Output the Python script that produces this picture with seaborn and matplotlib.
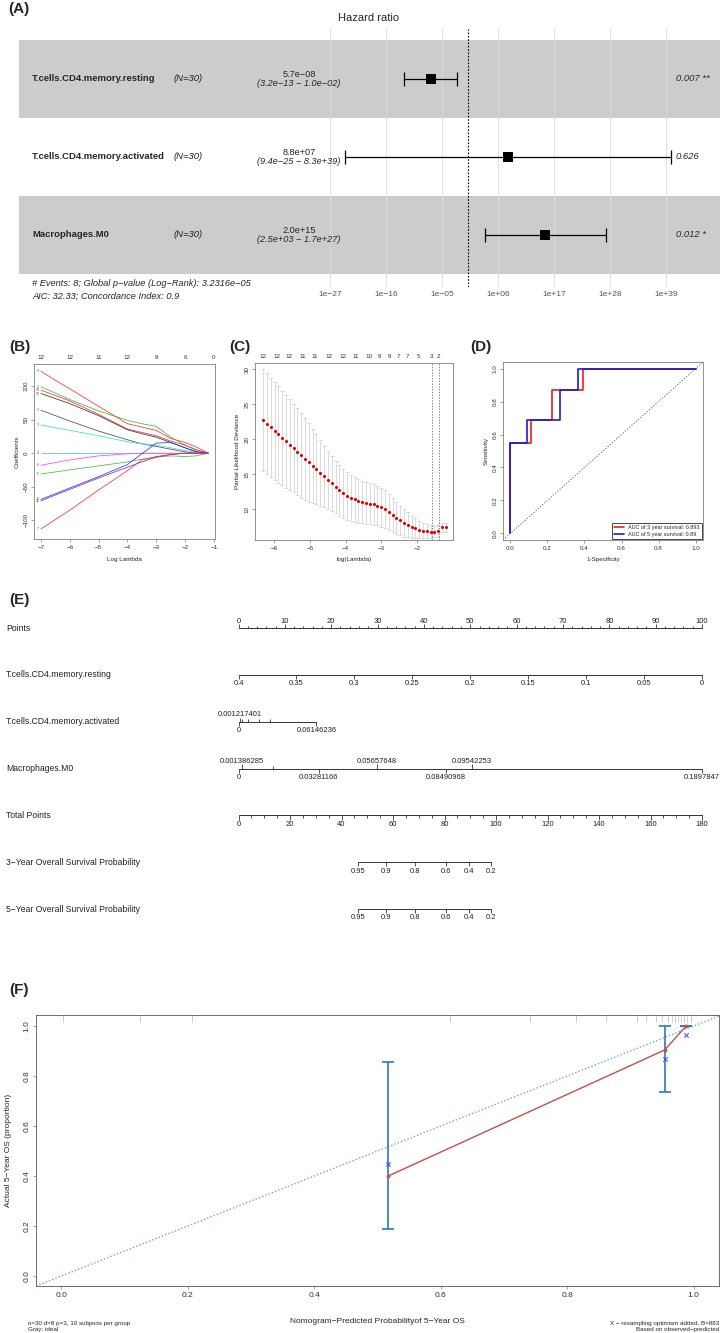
import numpy as np
import pandas as pd
import matplotlib
matplotlib.use("Agg")
import matplotlib.pyplot as plt
from matplotlib.ticker import NullLocator
import seaborn as sns

# --- (A) multivariate Cox forest plot ---
forest_vars = ["T.cells.CD4.memory.resting", "T.cells.CD4.memory.activated", "Macrophages.M0"]
forest_n = [30, 30, 30]
forest_hr = [5.7e-08, 8.8e+07, 2.0e+15]
forest_lo = [3.2e-13, 9.4e-25, 2.5e+03]
forest_hi = [1.0e-02, 8.3e+39, 1.7e+27]
forest_p = ["0.007 **", "0.626", "0.012 *"]
forest_ticks = [1e-27, 1e-16, 1e-05, 1e+06, 1e+17, 1e+28, 1e+39]
forest_note1 = "# Events: 8; Global p-value (Log-Rank): 3.2316e-05"
forest_note2 = "AIC: 32.33; Concordance Index: 0.9"

# --- (B) LASSO coefficient paths ---
lasso_loglam = [-7, -6, -5, -4, -3.5, -3, -2.5, -2, -1.6, -1.2]
lasso_coefs = [
    [122, 96, 70, 44, 39, 34, 22, 16, 9, 0],
    [99, 80, 63, 49, 44, 40, 24, 12, 4, 0],
    [94, 78, 58, 36, 31, 26, 18, 12, 5, 0],
    [89, 74, 56, 35, 29, 24, 16, 8, 2, 0],
    [64, 48, 33, 20, 14, 10, 6, 2, 0, 0],
    [42, 34, 26, 17, 14, 12, 8, 4, 1, 0],
    [0, 0, 0, 0, 0, 0, 0, 0, 0, 0],
    [-18, -10, -4, -1, 0, 0, 0, 0, 0, 0],
    [-31, -25, -19, -13, -9, -6, -4, -5, -4, 0],
    [-69, -52, -35, -17, -1, 15, 16, 8, 2, 0],
    [-71, -54, -37, -21, -13, -6, -2, 0, 0, 0],
    [-113, -85, -55, -26, -10, -5, -2, 0, 0, 0],
]
lasso_ids = ["9", "2", "10", "12", "1", "3", "4", "6", "5", "8", "11", "7"]
lasso_top = ["12", "12", "11", "12", "9", "6", "0"]

# --- (C) cross-validation curve ---
cv_loglam = np.linspace(-6.3, -1.2, 49)
cv_mean = [22.7, 22.2, 21.7, 21.2, 20.7, 20.2, 19.7, 19.2, 18.7, 18.2,
           17.7, 17.2, 16.7, 16.2, 15.7, 15.2, 14.7, 14.2, 13.7, 13.2,
           12.7, 12.3, 11.9, 11.6, 11.4, 11.2, 11.0, 10.9, 10.8, 10.7,
           10.5, 10.3, 10.0, 9.6, 9.2, 8.8, 8.4, 8.1, 7.8, 7.5,
           7.3, 7.1, 6.95, 6.85, 6.8, 6.8, 6.9, 7.4, 7.4]
cv_se = [7.3, 7.2, 7.1, 7.0, 6.9, 6.7, 6.6, 6.5, 6.3, 6.2,
         6.1, 5.9, 5.6, 5.3, 5.0, 4.7, 4.4, 4.1, 3.9, 3.7,
         3.6, 3.5, 3.4, 3.3, 3.2, 3.1, 3.0, 3.0, 2.9, 2.9,
         2.8, 2.8, 2.7, 2.6, 2.4, 2.3, 2.1, 2.0, 1.8, 1.6,
         1.4, 1.2, 1.1, 1.0, 0.9, 0.8, 0.8, 0.7, 0.7]
cv_lambda_min = -1.58
cv_lambda_1se = -1.39
cv_top_pos = [-6.32, -5.93, -5.58, -5.21, -4.86, -4.47, -4.08, -3.73,
              -3.34, -3.06, -2.78, -2.53, -2.27, -1.97, -1.60, -1.41]
cv_top_lab = ["12", "12", "12", "11", "11", "12", "12", "11",
              "10", "9", "9", "7", "7", "5", "3", "2"]

# --- (D) time-dependent ROC ---
roc3_fpr = [0, 0, 0.111, 0.111, 0.223, 0.223, 0.39, 0.39, 1.0]
roc3_tpr = [0, 0.55, 0.55, 0.69, 0.69, 0.87, 0.87, 1.0, 1.0]
roc5_fpr = [0, 0, 0.09, 0.09, 0.27, 0.27, 0.364, 0.364, 1.0]
roc5_tpr = [0, 0.55, 0.55, 0.69, 0.69, 0.87, 0.87, 1.0, 1.0]
roc_labels = ["AUC of 3 year survival: 0.893", "AUC of 5 year survival: 0.89"]

# --- (E) nomogram ---
nomo_rows = ["Points", "T.cells.CD4.memory.resting", "T.cells.CD4.memory.activated",
             "Macrophages.M0", "Total Points", "3-Year Overall Survival Probability",
             "5-Year Overall Survival Probability"]
resting_vals = [0.4, 0.35, 0.3, 0.25, 0.2, 0.15, 0.1, 0.05, 0]
activated_max = 0.06146236
activated_max_pts = 16.8
activated_above = [0.001217401]
activated_below = [0, 0.06146236]
activated_minor = [0.0025, 0.0072, 0.016, 0.0246]
m0_max = 0.1897847
m0_above = [0.001386285, 0.05657648, 0.09542253]
m0_below = [0, 0.03281166, 0.08490968, 0.1897847]
m0_minor = [0.014]
total_max = 180
surv_labels = ["0.95", "0.9", "0.8", "0.6", "0.4", "0.2"]
surv3_total = [46.4, 57.3, 68.5, 80.7, 89.6, 98.2]
surv5_total = [46.4, 57.3, 68.5, 80.7, 89.6, 98.2]

# --- (F) calibration curve ---
cal_pred = [0.517, 0.954, 0.988]
cal_obs = [0.40, 0.904, 1.0]
cal_lo = [0.187, 0.735, 1.0]
cal_hi = [0.857, 1.0, 1.0]
cal_corrected = [0.448, 0.87, 0.964]
cal_rug = [0.003, 0.124, 0.207, 0.614, 0.741, 0.814, 0.861, 0.91, 0.925,
           0.94, 0.95, 0.96, 0.965, 0.97, 0.975, 0.98, 0.985, 0.99, 0.995]

# --- figure setup ---
W, H = 720, 1333
sns.set_theme(style="ticks")
plt.rcParams["font.family"] = ["Liberation Sans Narrow", "Liberation Sans", "DejaVu Sans"]
plt.rcParams["axes.unicode_minus"] = True
fig = plt.figure(figsize=(W / 100, H / 100), dpi=100)
fig.patch.set_facecolor("white")


def px_axes(l, t, r, b):
    return fig.add_axes([l / W, 1 - b / H, (r - l) / W, (b - t) / H])


def fig_text(x, y, s, **kw):
    fig.text(x / W, 1 - y / H, s, **kw)


def minus(s):
    return s.replace("-", "\u2212")


def r_box(ax, size=4.5):
    for sp in ax.spines.values():
        sp.set_visible(True)
        sp.set_color("#808080")
        sp.set_linewidth(0.6)
    ax.tick_params(length=2.5, width=0.5, color="#808080", labelsize=size,
                   labelcolor="#333333", pad=1.5)
    plt.setp(ax.get_yticklabels(), rotation=90, va="center")


panel_font = dict(fontsize=11, fontweight="bold", family=["Liberation Sans", "DejaVu Sans"],
                  va="center", ha="left")
fig_text(8, 9, "(A)", **panel_font)
fig_text(9, 347, "(B)", **panel_font)
fig_text(229, 347, "(C)", **panel_font)
fig_text(470, 347, "(D)", **panel_font)
fig_text(9, 600, "(E)", **panel_font)
fig_text(9, 990, "(F)", **panel_font)

# ---------------- (A) ----------------
axA = px_axes(18.5, 29, 720, 287)
axA.set_xscale("log")
axA.set_xlim(10 ** -88.2, 10 ** 49.6)
axA.set_ylim(-0.667, 2.641)
rows = [2, 1, 0]
for r in (2, 0):
    axA.axhspan(r - 0.5, r + 0.5, color="#cccccc", lw=0, zorder=0)
for t in forest_ticks:
    axA.axvline(t, color="#dcdcdc", lw=0.6, zorder=1)
axA.axvline(1, color="black", lw=0.8, ls=(0, (1.5, 1.5)), zorder=2)
# confidence intervals with end caps
axA.hlines(rows, forest_lo, forest_hi, color="black", lw=0.9, zorder=3)
cap = 0.085
axA.vlines(forest_lo, np.array(rows) - cap, np.array(rows) + cap, color="black", lw=0.9, zorder=3)
axA.vlines(forest_hi, np.array(rows) - cap, np.array(rows) + cap, color="black", lw=0.9, zorder=3)
sns.scatterplot(x=forest_hr, y=rows, marker="s", s=42, color="black", linewidth=0,
                ax=axA, zorder=4)
axA.set_xticks(forest_ticks)
axA.set_xticklabels([minus(f"1e{int(np.log10(t)):+03d}") for t in forest_ticks])
axA.xaxis.set_minor_locator(NullLocator())
axA.set_yticks([])
axA.tick_params(axis="x", length=0, labelsize=6, labelcolor="#555555", pad=3)
for sp in axA.spines.values():
    sp.set_visible(False)
axA.set_xlabel("")
axA.set_ylabel("")
tr = axA.get_yaxis_transform()


def afrac(px):
    return (px - 18.5) / (720 - 18.5)


for r, name, n, h, lo, hi, p in zip(rows, forest_vars, forest_n, forest_hr,
                                     forest_lo, forest_hi, forest_p):
    axA.text(afrac(32), r, name, transform=tr, fontsize=6.8, fontweight="bold",
             va="center", ha="left")
    axA.text(afrac(174), r, f"(N={n})", transform=tr, fontsize=6.8, style="italic",
             va="center", ha="left", color="#222222")
    axA.text(afrac(299), r + 0.06, minus(f"{h:.1e}"), transform=tr, fontsize=6.6,
             va="center", ha="center")
    axA.text(afrac(299), r - 0.055, minus(f"({lo:.1e} - {hi:.1e})"), transform=tr,
             fontsize=6.6, style="italic", va="center", ha="center")
    axA.text(afrac(676), r, p, transform=tr, fontsize=6.8, style="italic",
             va="center", ha="left")
fig_text(369, 18, "Hazard ratio", fontsize=8, ha="center", va="center")
fig_text(32, 283, minus(forest_note1), fontsize=6.7, style="italic", va="center")
fig_text(32, 296, forest_note2, fontsize=6.7, style="italic", va="center")

# ---------------- (B) ----------------
axB = px_axes(34, 364, 215, 539)
lasso_df = pd.DataFrame([
    {"loglam": x, "coef": c, "var": f"V{i + 1}"}
    for i, path in enumerate(lasso_coefs) for x, c in zip(lasso_loglam, path)
])
lasso_colors = ["#ff3030", "#30c030", "#ff3030", "#303030", "#505050", "#30e0e0",
                "#40c8e8", "#ff40ff", "#40c040", "#3030ff", "#7030c0", "#ff3030"]
sns.lineplot(data=lasso_df, x="loglam", y="coef", hue="var", palette=lasso_colors,
             estimator=None, sort=False, legend=False, lw=0.55, ax=axB)
for path, lab in zip(lasso_coefs, lasso_ids):
    axB.text(lasso_loglam[0] - 0.12, path[0], lab, fontsize=2.5, color="#555555",
             ha="center", va="center")
axB.set_xlim(-7.24, -0.96)
axB.set_ylim(-128, 133)
axB.set_xticks([-7, -6, -5, -4, -3, -2, -1])
axB.set_yticks([-100, -50, 0, 50, 100])
axB.set_xlabel("Log Lambda", fontsize=4.5, labelpad=5)
axB.set_ylabel("Coefficients", fontsize=4.5, labelpad=3)
r_box(axB)
topB = axB.twiny()
topB.set_xlim(axB.get_xlim())
topB.set_xticks([-7, -6, -5, -4, -3, -2, -1])
topB.set_xticklabels(lasso_top)
topB.tick_params(length=0, labelsize=4.5, labelcolor="#333333", pad=3)
for sp in topB.spines.values():
    sp.set_visible(False)

# ---------------- (C) ----------------
axC = px_axes(255, 363, 453, 540)
axC.errorbar(cv_loglam, cv_mean, yerr=cv_se, fmt="none", ecolor="#d4d4d4",
             elinewidth=0.6, capsize=1.3, capthick=0.6, zorder=1)
sns.scatterplot(x=cv_loglam, y=cv_mean, color="#e00000", s=5, linewidth=0, ax=axC, zorder=3)
axC.axvline(cv_lambda_min, color="#555555", lw=0.5, ls=(0, (2, 2)))
axC.axvline(cv_lambda_1se, color="#555555", lw=0.5, ls=(0, (2, 2)))
axC.set_xlim(-6.53, -1.0)
axC.set_ylim(5.6, 30.9)
axC.set_xticks([-6, -5, -4, -3, -2])
axC.set_yticks([10, 15, 20, 25, 30])
axC.set_xlabel("log(Lambda)", fontsize=4.5, labelpad=5)
axC.set_ylabel("Partial Likelihood Deviance", fontsize=4.5, labelpad=3)
r_box(axC)
topC = axC.twiny()
topC.set_xlim(axC.get_xlim())
topC.set_xticks(cv_top_pos)
topC.set_xticklabels(cv_top_lab)
topC.tick_params(length=0, labelsize=4.5, labelcolor="#333333", pad=3)
for sp in topC.spines.values():
    sp.set_visible(False)

# ---------------- (D) ----------------
axD = px_axes(503, 362, 703, 540)
roc_df = pd.DataFrame({
    "fpr": roc3_fpr + roc5_fpr,
    "tpr": roc3_tpr + roc5_tpr,
    "curve": [roc_labels[0]] * len(roc3_fpr) + [roc_labels[1]] * len(roc5_fpr),
})
axD.axline((0, 0), slope=1, color="#555555", lw=0.6, ls=(0, (1.5, 2)))
sns.lineplot(data=roc_df, x="fpr", y="tpr", hue="curve", palette=["#ee1c1c", "#1c1ccc"],
             estimator=None, sort=False, lw=1.2, ax=axD)
axD.set_xlim(-0.04, 1.04)
axD.set_ylim(-0.04, 1.04)
axD.set_xticks([0, 0.2, 0.4, 0.6, 0.8, 1.0])
axD.set_yticks([0, 0.2, 0.4, 0.6, 0.8, 1.0])
axD.set_xticklabels(["0.0", "0.2", "0.4", "0.6", "0.8", "1.0"])
axD.set_yticklabels(["0.0", "0.2", "0.4", "0.6", "0.8", "1.0"])
axD.set_xlabel("1-Specificity", fontsize=4.5, labelpad=5)
axD.set_ylabel("Sensitivity", fontsize=4.5, labelpad=3)
r_box(axD)
axD.legend(loc="lower right", fontsize=4, frameon=True, fancybox=False, edgecolor="black",
           framealpha=1, handlelength=1.8, borderpad=0.4, labelspacing=0.3,
           borderaxespad=0.2, title=None)
axD.get_legend().get_frame().set_linewidth(0.5)

# ---------------- (E) nomogram ----------------
axE = px_axes(0, 600, 720, 940)
axE.set_xlim(-51.46, 103.88)
axE.set_ylim(6.66, -0.6)
axE.axis("off")
tick = 0.09
lab_off = 0.19
lc = "#333333"
fs_e = 5.5


def scale_line(row, pts):
    axE.plot([min(pts), max(pts)], [row, row], color=lc, lw=0.7)


def ticks(row, pts, labels=None, up=False, length=tick):
    d = -length if up else length
    axE.vlines(pts, row, row + d, color=lc, lw=0.6)
    if labels is not None:
        y = row - lab_off + 0.04 if up else row + lab_off
        for p, s in zip(pts, labels):
            axE.text(p, y, s, fontsize=fs_e, ha="center", va="center", color="#222222")


for i, name in enumerate(nomo_rows):
    axE.text(-50.2, i, minus(name), fontsize=6.2, ha="left", va="center", color="#222222")

# Points
pts_major = list(range(0, 101, 10))
scale_line(0, pts_major)
ticks(0, pts_major, [str(v) for v in pts_major], up=True)
ticks(0, [v for v in range(0, 101, 2) if v % 10], up=True, length=tick * 0.55)

# resting (reverse)
res_pts = [(resting_vals[0] - v) / resting_vals[0] * 100 for v in resting_vals]
scale_line(1, res_pts)
ticks(1, res_pts, [f"{v:g}" for v in resting_vals])

# activated
act = lambda v: v / activated_max * activated_max_pts
scale_line(2, [act(0), act(activated_max)])
ticks(2, [act(v) for v in activated_above], [f"{v:.9g}" for v in activated_above], up=True)
ticks(2, [act(v) for v in activated_below], ["0", "0.06146236"])
ticks(2, [act(v) for v in activated_minor], up=True, length=tick * 0.7)

# macrophages
m0 = lambda v: v / m0_max * 100
scale_line(3, [m0(0), m0(m0_max)])
ticks(3, [m0(v) for v in m0_above], ["0.001386285", "0.05657648", "0.09542253"], up=True)
ticks(3, [m0(v) for v in m0_below], ["0", "0.03281166", "0.08490968", "0.1897847"])
ticks(3, [m0(v) for v in m0_minor], up=True, length=tick * 0.7)

# total points
tp = lambda v: v / total_max * 100
tot_major = list(range(0, total_max + 1, 20))
scale_line(4, [tp(v) for v in tot_major])
ticks(4, [tp(v) for v in tot_major], [str(v) for v in tot_major])
ticks(4, [tp(v) for v in range(0, total_max + 1, 5) if v % 20], length=tick * 0.55)

# survival probabilities
for row, tots in ((5, surv3_total), (6, surv5_total)):
    scale_line(row, [tp(v) for v in tots])
    ticks(row, [tp(v) for v in tots], surv_labels)

# ---------------- (F) calibration ----------------
axF = px_axes(36, 1015, 719, 1286)
axF.axline((0, 0), slope=1, color="#6fa3d6", lw=1.0, ls=(0, (1, 1.5)))
axF.vlines(cal_rug, 0.975, 1.0, transform=axF.get_xaxis_transform(), color="#bbbbbb", lw=0.5)
axF.errorbar(cal_pred, cal_obs, yerr=[np.array(cal_obs) - np.array(cal_lo),
                                      np.array(cal_hi) - np.array(cal_obs)],
             fmt="none", ecolor="#2a7ab8", elinewidth=1.2, capsize=4, capthick=1.2, zorder=2)
sns.lineplot(x=cal_pred, y=cal_obs, color="#c0504d", lw=1.0, marker="o", markersize=2.8,
             markeredgewidth=0, estimator=None, sort=False, ax=axF, zorder=3)
sns.scatterplot(x=cal_pred, y=cal_corrected, marker="x", color="#4040ff", s=10,
                linewidth=0.7, ax=axF, zorder=4)
axF.set_xlim(-0.04, 1.04)
axF.set_ylim(-0.04, 1.044)
axF.set_xticks([0, 0.2, 0.4, 0.6, 0.8, 1.0])
axF.set_yticks([0, 0.2, 0.4, 0.6, 0.8, 1.0])
axF.set_xticklabels(["0.0", "0.2", "0.4", "0.6", "0.8", "1.0"])
axF.set_yticklabels(["0.0", "0.2", "0.4", "0.6", "0.8", "1.0"])
axF.set_xlabel(minus("Nomogram-Predicted Probabilityof 5-Year OS"), fontsize=6, labelpad=14)
axF.set_ylabel(minus("Actual 5-Year OS (proportion)"), fontsize=6, labelpad=8)
r_box(axF, size=6)
for sp in axF.spines.values():
    sp.set_color("#555555")
fig_text(28, 1323, "n=30 d=8 p=3, 10 subjects per group", fontsize=4.5, va="center")
fig_text(28, 1329, "Gray: ideal", fontsize=4.5, va="center")
fig_text(719, 1323, minus("X - resampling optimism added, B=883"), fontsize=4.5,
         va="center", ha="right")
fig_text(719, 1329, minus("Based on observed-predicted"), fontsize=4.5, va="center", ha="right")

fig.savefig("out.png", dpi=100, facecolor="white")
